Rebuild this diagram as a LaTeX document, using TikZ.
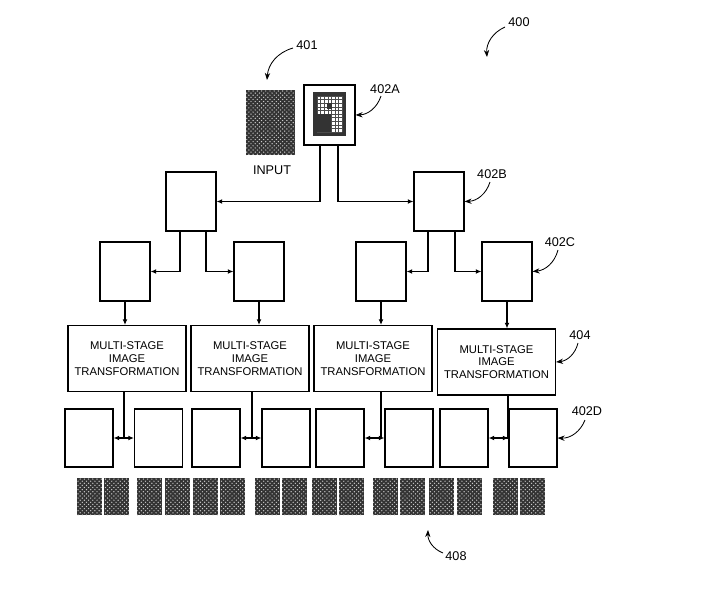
\documentclass[tikz,border=0pt]{standalone}
\usepackage{fontspec}
\setmainfont{Liberation Sans}
\usetikzlibrary{patterns,arrows.meta}
\tikzset{
  blk/.style={draw, thick, fill=white, minimum width=50*0.025cm, minimum height=59*0.025cm, inner sep=0pt},
  mst/.style={draw, thick, minimum width=118*0.025cm, minimum height=66*0.025cm, align=center, font=\fontsize{8}{9}\selectfont, inner sep=0pt},
  tile/.style={fill=black!80, postaction={pattern=crosshatch dots, pattern color=white!80!black}},
  lbl/.style={font=\fontsize{9}{10}\selectfont},
  conn/.style={thick, -{Latex[length=4pt,width=3.5pt]}},
  ref/.style={semithick, -{Stealth[length=5pt]}}
}
\begin{document}
\begin{tikzpicture}[x=0.025cm, y=-0.025cm]
\useasboundingbox (0,0) rectangle (720,593);

% input image and first block
\fill[tile] (246,90) rectangle (295,155);
\node[lbl] (input) at (272,170) {INPUT};
\node[blk, minimum width=51*0.025cm, minimum height=60*0.025cm] (a) at (329.5,115) {};
\fill[black!80] (313,92) rectangle (346,136);
\fill[white] (317,96) rectangle (342,132);
\foreach \k in {0,...,7} {
  \draw[black!70, thin] (317+3.6*\k,96) -- (317+3.6*\k,132);
}
\foreach \k in {0,...,10} {
  \draw[black!70, thin] (317,96+3.6*\k) -- (342,96+3.6*\k);
}
\fill[black!80] (317,114) rectangle (331,132);
\fill[black!80] (327,103) rectangle (332,109);

% level B
\node[blk] (b1) at (191,201.5) {};
\node[blk] (b2) at (439,201.5) {};
\draw[conn] (320,145) |- (b1.east);
\draw[conn] (338,145) |- (b2.west);

% level C
\node[blk] (c1) at (125,271.5) {};
\node[blk] (c2) at (259,271.5) {};
\node[blk] (c3) at (381,271.5) {};
\node[blk] (c4) at (507,271.5) {};
\draw[conn] (180,231) |- (c1.east);
\draw[conn] (206,231) |- (c2.west);
\draw[conn] (428,231) |- (c3.east);
\draw[conn] (455,231) |- (c4.west);

% multi-stage transformations
\foreach \i/\x/\y in {1/127/358.5, 2/250/358.5, 3/373/358.5, 4/496.5/362}
  \node[mst] (m\i) at (\x,\y) {MULTI-STAGE\\IMAGE\\TRANSFORMATION};
\foreach \i in {1,...,4}
  \draw[conn] (c\i.south) -- (c\i.south |- m\i.north);

% level D
\foreach \i/\x in {1/89, 2/158.5, 3/216, 4/286, 5/340, 6/409, 7/464, 8/533}
  \node[blk, minimum width=48*0.025cm, minimum height=58*0.025cm] (d\i) at (\x,438) {};
\foreach \i/\l/\r/\x in {1/1/2/124, 2/3/4/252, 3/5/6/381, 4/7/8/508} {
  \coordinate (j\i) at (\x,438);
  \draw[thick] (\x,0 |- m\i.south) -- (j\i);
  \draw[conn] (j\i) -- (d\l.east);
  \draw[conn] (j\i) -- (d\r.west);
}

% output tiles
\foreach \x in {77,104,137,165,193,220,255,282,312,339,373,400,429,457,493,520}
  \fill[tile] (\x,478) rectangle +(25,37);

% reference labels
\node[lbl] (r400) at (519,22) {400};
\draw[ref] (505,27) to[bend right=35] (487,57);
\node[lbl] (r401) at (307,45) {401};
\draw[ref] (293,48) to[bend right=35] (267,80);
\node[lbl] (r402a) at (385,89) {402A};
\draw[ref] (381,96) to[bend left=35] (a.east);
\node[lbl] (r402b) at (492,174) {402B};
\draw[ref] (490,182) to[bend left=35] (b2.east);
\node[lbl] (r402c) at (560,242) {402C};
\draw[ref] (558,250) to[bend left=35] (c4.east);
\node[lbl] (r404) at (580,335) {404};
\draw[ref] (578,343) to[bend left=35] (m4.east);
\node[lbl] (r402d) at (587,411) {402D};
\draw[ref] (585,420) to[bend left=35] (d8.east);
\node[lbl] (r408) at (456,556) {408};
\draw[ref] (443,553) to[bend left=35] (428,530);
\end{tikzpicture}
\end{document}
